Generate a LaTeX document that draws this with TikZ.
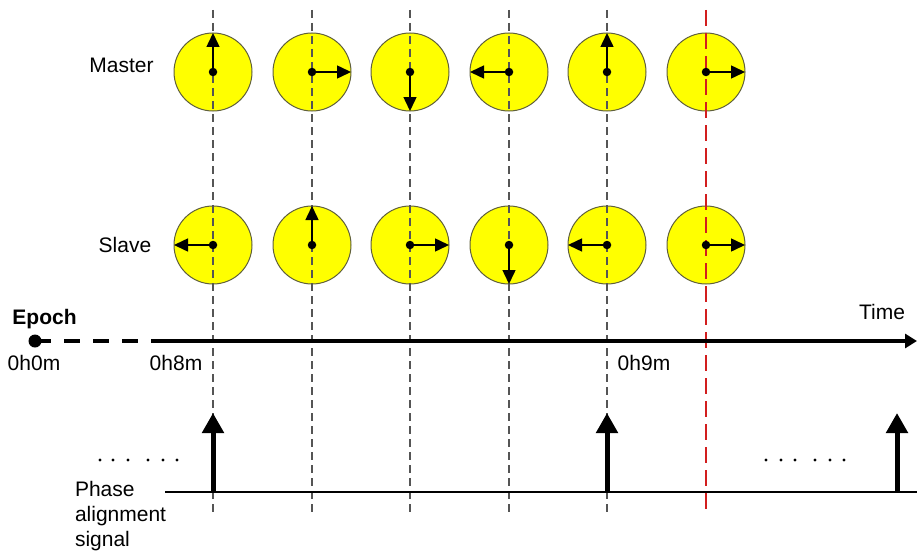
\documentclass[tikz,border=0pt]{standalone}
\usepackage{fontspec}
\setmainfont{Liberation Sans}
\usetikzlibrary{arrows.meta}
\definecolor{clockfill}{RGB}{255,255,0}
\definecolor{clockrim}{RGB}{95,95,60}
\definecolor{guidegray}{RGB}{85,85,85}
\definecolor{guidered}{RGB}{210,30,30}
\tikzset{
  lbl/.style={inner sep=0pt, outer sep=0pt, font=\fontsize{21}{26}\selectfont, anchor=base},
  clock/.style={circle, draw=clockrim, line width=1pt, fill=clockfill, minimum size=78pt, inner sep=0pt, outer sep=0pt},
  hand/.style={line width=1.5pt, -{Triangle[length=14pt,width=13pt]}},
  hub/.style={circle, fill=black, minimum size=8.5pt, inner sep=0pt},
  guide/.style={draw=guidegray, line width=1.1pt, dash pattern=on 8pt off 5pt},
  redguide/.style={draw=guidered, line width=2pt, dash pattern=on 16pt off 7pt},
  timeaxis/.style={line width=4pt},
  pulse/.style={line width=5pt, -{Triangle[length=20pt,width=21pt]}},
  dotmark/.style={circle, fill=black, minimum size=3.2pt, inner sep=0pt}
}
\begin{document}
\begin{tikzpicture}[x=1pt,y=-1pt]
\useasboundingbox (0,0) rectangle (917,551);

% clocks
\foreach \i/\x in {1/213,2/312,3/410,4/509,5/607,6/706}{
  \node[clock] (m\i) at (\x,72) {};
  \node[clock] (s\i) at (\x,245) {};
}

% vertical guides
\foreach \i/\x in {1/213,2/312,3/410,4/509,5/607}{
  \coordinate (gt\i) at (\x,10);
  \coordinate (gb\i) at (\x,516);
  \draw[guide] (gt\i) -- (gb\i);
}
\coordinate (rt) at (706,10);
\coordinate (rb) at (706,514);
\draw[redguide] (rt) -- (rb);

% hands
\foreach \i/\d in {1/north,2/east,3/south,4/west,5/north,6/east}{
  \draw[hand] (m\i.center) -- (m\i.\d);
  \node[hub] at (m\i.center) {};
}
\foreach \i/\d in {1/west,2/north,3/east,4/south,5/west,6/east}{
  \draw[hand] (s\i.center) -- (s\i.\d);
  \node[hub] at (s\i.center) {};
}

% labels
\node[lbl] (master) at (121.5,72) {Master};
\node[lbl] (slave) at (125,252) {Slave};

% time axis
\node[circle, fill=black, minimum size=13pt, inner sep=0pt] (epochdot) at (35,341) {};
\coordinate (solidstart) at (152,341);
\coordinate (axisend) at (917,341);
\draw[timeaxis, dash pattern=on 16pt off 13pt] (epochdot.center) -- (solidstart);
\draw[timeaxis, -{Triangle[length=12pt,width=14pt]}] (solidstart) -- (axisend);
\node[lbl, font=\fontsize{21}{26}\selectfont\bfseries] (epoch) at (44.5,324) {Epoch};
\node[lbl] (t0) at (34,370) {0h0m};
\node[lbl] (t8) at (176,370) {0h8m};
\node[lbl] (t9) at (644,370) {0h9m};
\node[lbl] (time) at (882,319) {Time};

% phase alignment signal
\coordinate (sigstart) at (165,492);
\coordinate (sigend) at (917,492);
\draw[line width=1.6pt] (sigstart) -- (sigend);
\foreach \i/\x in {1/213,2/607,3/897}{
  \coordinate (pb\i) at (\x,492);
  \coordinate (pt\i) at (\x,413);
  \draw[pulse] (pb\i) -- (pt\i);
}
\foreach \x in {100,113,128,148,163,177,766,781,795,815,830,844}{
  \node[dotmark] at (\x,460) {};
}
\node[lbl, anchor=north west, align=left, font=\fontsize{21}{25}\selectfont] (phase) at (75,481) {Phase\\alignment\\signal};
\end{tikzpicture}
\end{document}
